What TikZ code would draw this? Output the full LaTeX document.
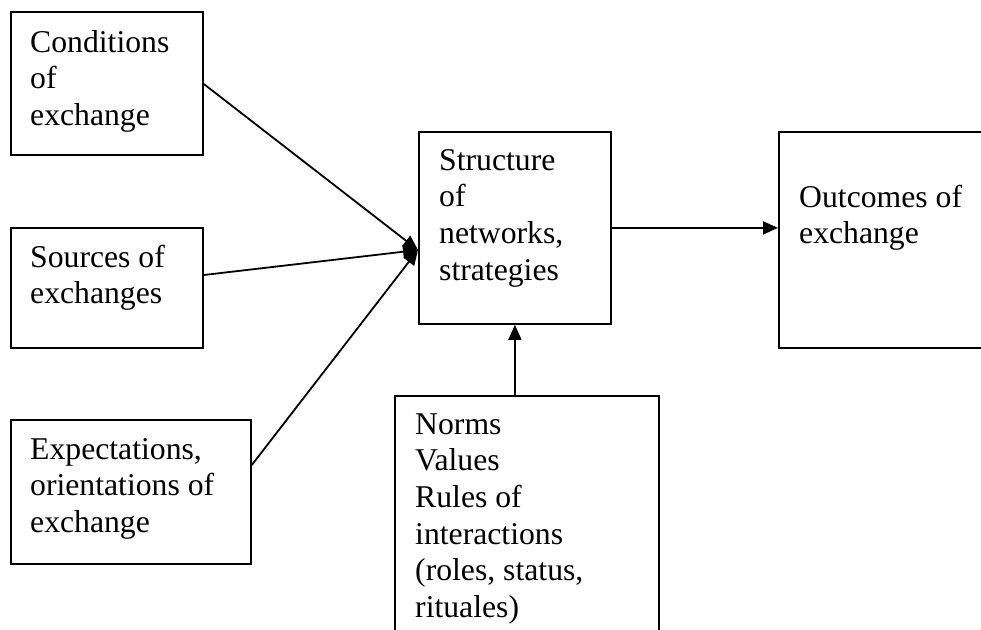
\documentclass[tikz,border=0pt]{standalone}
\usepackage{fontspec}
\setmainfont{Liberation Serif}
\usetikzlibrary{arrows.meta,calc}
\begin{document}
\begin{tikzpicture}[x=1pt,y=-1pt,
  box/.style={draw, line width=1.8pt, inner sep=0pt, anchor=north west},
  txt/.style={inner sep=0pt, anchor=north west, align=left, font=\fontsize{31.7}{36.6}\selectfont},
  arr/.style={line width=1.8pt, -{Triangle[length=15pt,width=13pt]}}]
\clip (0,0) rectangle (981,629);
\fill[white] (0,0) rectangle (981,629);
% boxes
\node[box, minimum width=192pt, minimum height=143pt] (a) at (10,11) {};
\node[box, minimum width=192pt, minimum height=120pt] (b) at (10,227) {};
\node[box, minimum width=240pt, minimum height=144pt] (c) at (10,419) {};
\node[box, minimum width=192pt, minimum height=192pt] (s) at (418,131) {};
\node[box, minimum width=250pt, minimum height=216pt] (o) at (778,131) {};
\node[box, minimum width=264pt, minimum height=300pt] (n) at (394,395) {};
% texts
\node[txt] (at) at ($(a.north west)+(20,15.4)$) {\strut Conditions\\of\\exchange};
\node[txt] (bt) at ($(b.north west)+(20,14.4)$) {\strut Sources of\\exchanges};
\node[txt] (ct) at ($(c.north west)+(20,14.4)$) {\strut Expectations,\\orientations of\\exchange};
\node[txt] (st) at ($(s.north west)+(21,13.4)$) {\strut Structure\\of\\networks,\\strategies};
\node[txt] (ot) at ($(o.north west)+(21,50.4)$) {\strut Outcomes of\\exchange};
\node[txt] (nt) at ($(n.north west)+(21,13.4)$) {\strut Norms\\Values\\Rules of\\interactions\\(roles, status,\\rituales)};
% connectors
\coordinate (m) at ($(s.north west)+(0,119)$);
\draw[arr] ($(a.north east)+(0,73)$) -- (m);
\draw[arr] ($(b.north east)+(0,48)$) -- (m);
\draw[arr] ($(c.north east)+(0,46)$) -- (m);
\draw[arr] (n.north -| s.south) -- (s.south);
\draw[arr] (s.east) -- (s.east -| o.west);
\end{tikzpicture}
\end{document}
